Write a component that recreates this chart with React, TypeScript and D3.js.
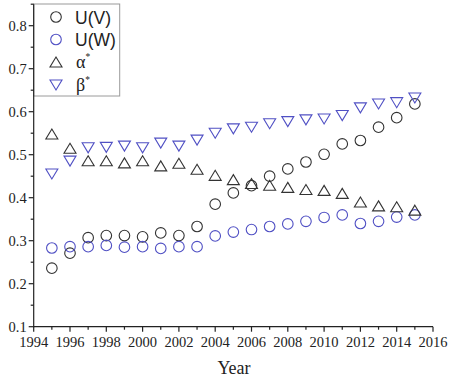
import React from "react";
import * as d3 from "d3";

const years = [1995,1996,1997,1998,1999,2000,2001,2002,2003,2004,2005,2006,2007,2008,2009,2010,2011,2012,2013,2014,2015];
const uV = [0.236,0.271,0.307,0.312,0.312,0.309,0.318,0.312,0.333,0.385,0.411,0.428,0.450,0.467,0.483,0.501,0.525,0.533,0.564,0.586,0.618];
const uW = [0.283,0.286,0.286,0.289,0.285,0.286,0.282,0.286,0.286,0.311,0.320,0.326,0.333,0.339,0.345,0.354,0.360,0.340,0.345,0.355,0.360];
const alpha = [0.548,0.515,0.486,0.486,0.481,0.486,0.474,0.480,0.466,0.452,0.442,0.433,0.429,0.424,0.419,0.417,0.410,0.390,0.381,0.379,0.371];
const beta = [0.455,0.485,0.516,0.517,0.520,0.516,0.527,0.520,0.534,0.550,0.560,0.564,0.572,0.577,0.581,0.583,0.591,0.609,0.618,0.621,0.632];

const xTicks = [1994,1996,1998,2000,2002,2004,2006,2008,2010,2012,2014,2016];
const yTicks = [0.1,0.2,0.3,0.4,0.5,0.6,0.7,0.8];

const BLACK = "#333333";
const BLUE = "#5050c4";

const W = 450, H = 379;
const x = d3.scaleLinear().domain([1994, 2016]).range([33.7, 433]);
const y = d3.scaleLinear().domain([0.1, 0.85]).range([326.7, 4.2]);

type Kind = "circle" | "up" | "down";

function Sym({ kind, cx, cy, color }: { kind: Kind; cx: number; cy: number; color: string }) {
  if (kind === "circle") {
    return <circle cx={cx} cy={cy} r={5.3} fill="none" stroke={color} strokeWidth={1.1} />;
  }
  const hw = 6, hh = 5;
  const pts = kind === "up"
    ? [[cx, cy - hh], [cx + hw, cy + hh], [cx - hw, cy + hh]]
    : [[cx - hw, cy - hh], [cx + hw, cy - hh], [cx, cy + hh]];
  return <polygon points={pts.map(p => p.join(",")).join(" ")} fill="none" stroke={color} strokeWidth={1.1} strokeLinejoin="miter" />;
}

const series: { name: string; vals: number[]; kind: Kind; color: string }[] = [
  { name: "U(V)", vals: uV, kind: "circle", color: BLACK },
  { name: "U(W)", vals: uW, kind: "circle", color: BLUE },
  { name: "alpha", vals: alpha, kind: "up", color: BLACK },
  { name: "beta", vals: beta, kind: "down", color: BLUE },
];

export default function App() {
  const minorX = d3.range(1995, 2016, 2);
  const minorY = d3.range(0.15, 0.86, 0.1);
  const x0 = x(1994), y0 = y(0.1);
  const legendRows = [17, 39.5, 62, 85];
  return (
    <div style={{ position: "absolute", left: 0, top: 0 }}>
      <svg width={W} height={H} style={{ display: "block", background: "#fff" }}>
        {series.map(s => (
          <g key={s.name}>
            {s.vals.map((v, i) => (
              <Sym key={i} kind={s.kind} cx={x(years[i])} cy={y(v)} color={s.color} />
            ))}
          </g>
        ))}
        <rect x={x0} y={4} width={86} height={92} fill="#fff" stroke="#9a9a9a" strokeWidth={1} />
        <Sym kind="circle" cx={56} cy={legendRows[0]} color={BLACK} />
        <Sym kind="circle" cx={56} cy={legendRows[1]} color={BLUE} />
        <Sym kind="up" cx={56} cy={legendRows[2]} color={BLACK} />
        <Sym kind="down" cx={56} cy={legendRows[3]} color={BLUE} />
        <g fontFamily="'Liberation Sans', Arial, sans-serif" fontSize={17.5} fill="#222">
          <text x={75} y={legendRows[0] + 6.5}>U(V)</text>
          <text x={75} y={legendRows[1] + 6.5}>U(W)</text>
        </g>
        <g fontFamily="'Liberation Serif', 'Times New Roman', serif" fontSize={18} fill="#222">
          <text x={76} y={legendRows[2] + 6}>α<tspan fontSize={9.5} dy={-8}>*</tspan></text>
          <text x={76} y={legendRows[3] + 6}>β<tspan fontSize={9.5} dy={-8}>*</tspan></text>
        </g>
        <g stroke="#222" strokeWidth={1.2}>
          <line x1={x0} x2={x0} y1={y(0.85)} y2={y0 + 0.6} />
          <line x1={x0 - 0.6} x2={x(2016)} y1={y0} y2={y0} />
          {xTicks.map(t => <line key={"xt" + t} x1={x(t)} x2={x(t)} y1={y0} y2={y0 + 5} />)}
          {minorX.map(t => <line key={"xm" + t} x1={x(t)} x2={x(t)} y1={y0} y2={y0 + 3} />)}
          {yTicks.map(t => <line key={"yt" + t} x1={x0 - 5} x2={x0} y1={y(t)} y2={y(t)} />)}
          {minorY.map(t => <line key={"ym" + t} x1={x0 - 3} x2={x0} y1={y(t)} y2={y(t)} />)}
        </g>
        <g fontFamily="'Liberation Serif', 'Times New Roman', serif" fontSize={14.5} fill="#222">
          {xTicks.map(t => (
            <text key={"xl" + t} x={x(t)} y={y0 + 20.5} textAnchor="middle">{t}</text>
          ))}
          {yTicks.map(t => (
            <text key={"yl" + t} x={x0 - 7} y={y(t) + 5} textAnchor="end">{d3.format(".1f")(t)}</text>
          ))}
        </g>
        <text x={234} y={374} textAnchor="middle" fontFamily="'Liberation Serif', 'Times New Roman', serif" fontSize={18} fill="#222">Year</text>
      </svg>
    </div>
  );
}
